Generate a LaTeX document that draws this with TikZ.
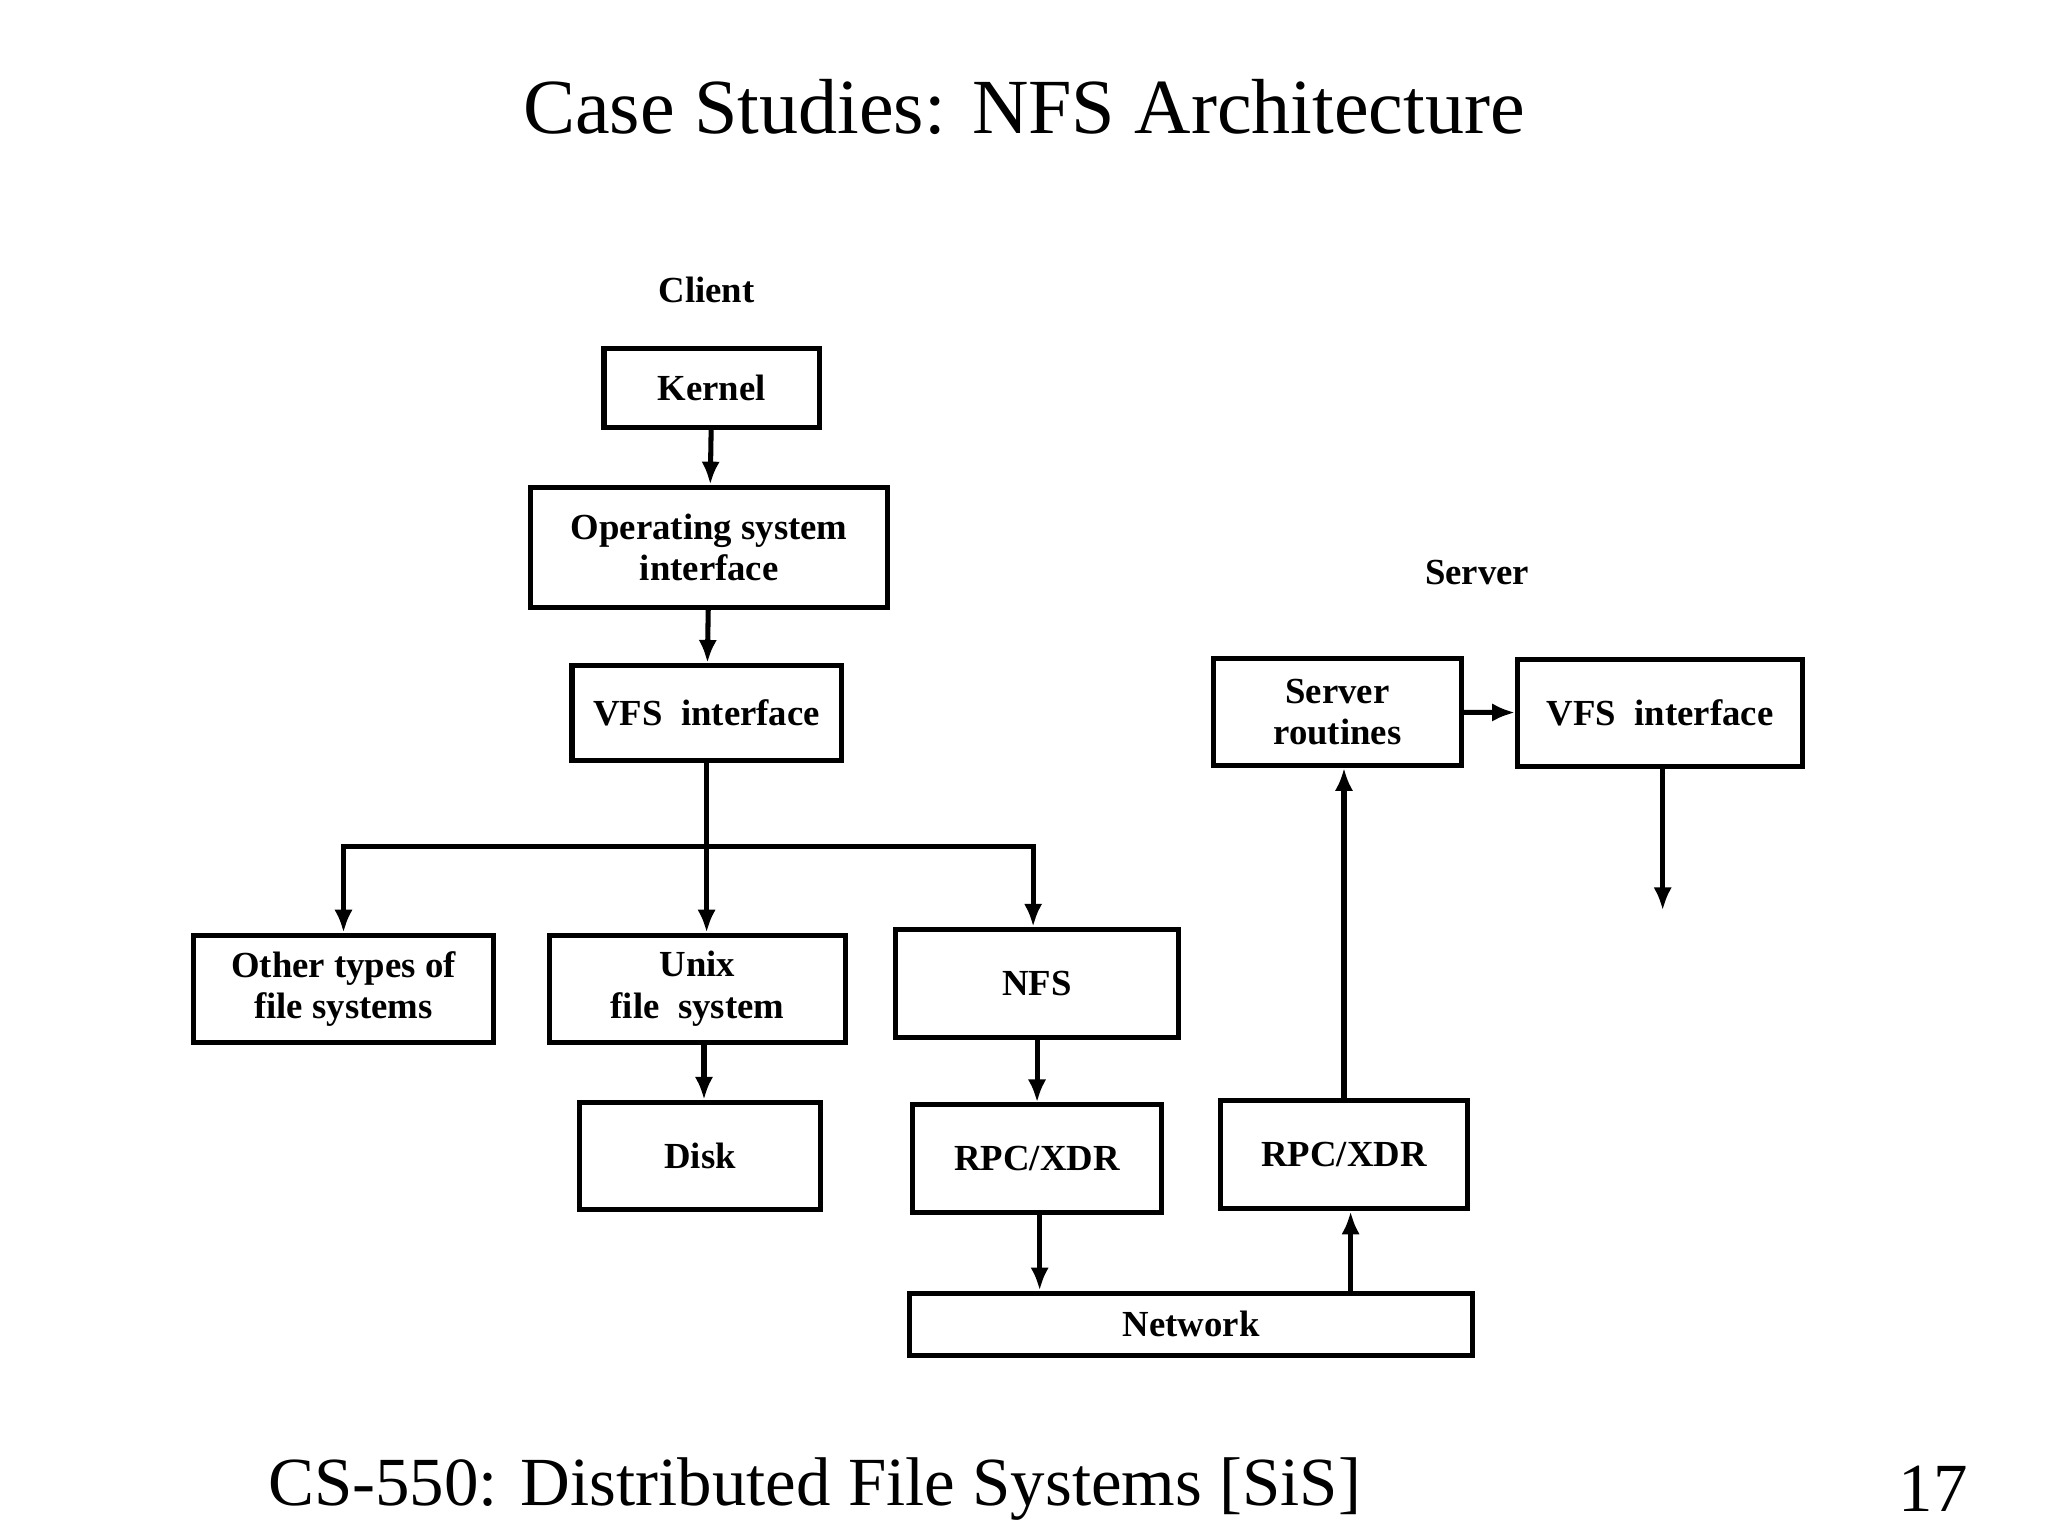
\documentclass[tikz,border=0pt]{standalone}
\usepackage{fontspec}
\setmainfont{Liberation Serif}
\usetikzlibrary{arrows.meta}
\tikzset{
  box/.style={draw, line width=1.1pt, inner sep=0pt, align=center, font=\fontsize{8}{9}\selectfont\bfseries},
  lbl/.style={font=\fontsize{8}{9}\selectfont\bfseries},
  arr/.style={-{Latex[length=5pt,width=4pt]}, line width=1.1pt}
}
\begin{document}
\begin{tikzpicture}[x=0.01cm, y=-0.01cm]
  \useasboundingbox (0,0) rectangle (1568,1176);
  \node[font=\fontsize{17}{20}\selectfont] (title) at (784,82) {Case Studies: NFS Architecture};
  \node[font=\fontsize{15}{18}\selectfont, anchor=west] (foot) at (193,1140) {CS-550: Distributed File Systems [SiS]};
  \node[font=\fontsize{15}{18}\selectfont] (page) at (1480,1140) {17};
  % client side
  \node[lbl] (client) at (541,222) {Client};
  \node[box, minimum width=1.65cm, minimum height=0.6cm] (kernel) at (545,297) {Kernel};
  \node[box, minimum width=2.73cm, minimum height=0.92cm] (osif) at (543,419) {Operating system\\interface};
  \node[box, minimum width=2.06cm, minimum height=0.73cm] (vfsc) at (541,546) {VFS\ \ interface};
  \node[box, minimum width=2.29cm, minimum height=0.82cm] (other) at (263,757) {Other types of\\file systems};
  \node[box, minimum width=2.27cm, minimum height=0.82cm] (unix) at (534,757) {Unix\\file\ \ system};
  \node[box, minimum width=2.16cm, minimum height=0.83cm] (nfs) at (794,753) {NFS};
  \node[box, minimum width=1.84cm, minimum height=0.82cm] (disk) at (536,885) {Disk};
  \node[box, minimum width=1.90cm, minimum height=0.82cm] (rpcc) at (794,887) {RPC/XDR};
  % server side
  \node[lbl] (server) at (1131,438) {Server};
  \node[box, minimum width=1.90cm, minimum height=0.82cm] (routines) at (1024,545) {Server\\routines};
  \node[box, minimum width=2.18cm, minimum height=0.82cm] (vfss) at (1271,546) {VFS\ \ interface};
  \node[box, minimum width=1.89cm, minimum height=0.83cm] (rpcs) at (1029,884) {RPC/XDR};
  \node[box, minimum width=4.31cm, minimum height=0.48cm] (network) at (912,1014) {Network};
  \coordinate (vfsend) at (1273,697);
  \coordinate (split) at (541,648);
  % connectors
  \draw[arr] (kernel) -- (osif);
  \draw[arr] (osif) -- (vfsc);
  \draw[line width=1.1pt] (vfsc) -- (split);
  \draw[arr] (split) -| (other);
  \draw[arr] (split) -- (split |- unix.north);
  \draw[arr] (split) -| ([xshift=-0.03cm]nfs.north);
  \draw[arr] ([xshift=0.05cm]unix.south) -- ([xshift=0.05cm]unix.south |- disk.north);
  \draw[arr] (nfs) -- (nfs |- rpcc.north);
  \draw[arr] ([xshift=0.02cm]rpcc.south) -- ([xshift=0.02cm]rpcc.south |- network.north);
  \draw[arr] ([xshift=1.22cm]network.north) -- ([xshift=1.22cm]network.north |- rpcs.south);
  \draw[arr] (rpcs) -- (rpcs |- routines.south);
  \draw[arr] (routines) -- (vfss);
  \draw[arr] (vfsend |- vfss.south) -- (vfsend);
\end{tikzpicture}
\end{document}
